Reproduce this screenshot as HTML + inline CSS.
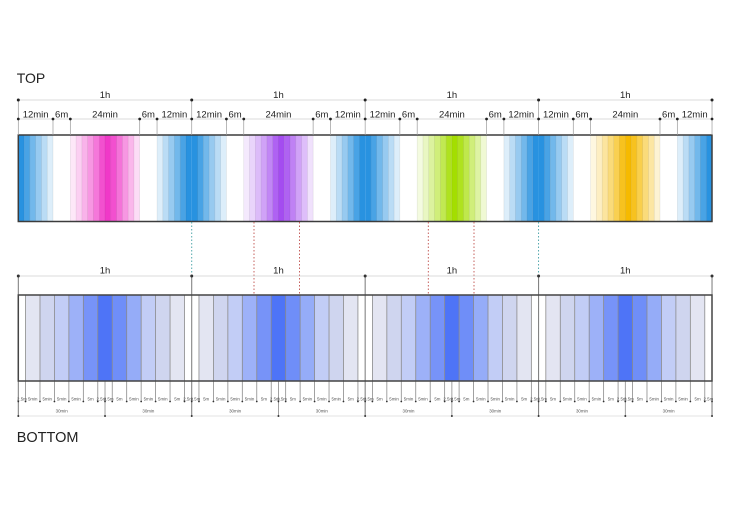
<!DOCTYPE html>
<html><head><meta charset="utf-8"><style>
html,body{margin:0;padding:0;background:#fff;}
svg{display:block;}
text{font-family:"Liberation Sans",Arial,sans-serif;}
</style></head><body>
<svg width="730" height="516" viewBox="0 0 730 516" xmlns="http://www.w3.org/2000/svg">
<defs>
 <g id="bl">
  <rect x="0" y="0" width="2" height="86.5" fill-opacity=".95"/>
  <rect x="2" y="0" width="2" height="86.5" fill-opacity=".8"/>
  <rect x="4" y="0" width="2" height="86.5" fill-opacity=".62"/>
  <rect x="6" y="0" width="2" height="86.5" fill-opacity=".46"/>
  <rect x="8" y="0" width="2" height="86.5" fill-opacity=".3"/>
  <rect x="10" y="0" width="2" height="86.5" fill-opacity=".15"/>
 </g>
 <g id="br">
  <rect x="48" y="0" width="2" height="86.5" fill-opacity=".15"/>
  <rect x="50" y="0" width="2" height="86.5" fill-opacity=".3"/>
  <rect x="52" y="0" width="2" height="86.5" fill-opacity=".46"/>
  <rect x="54" y="0" width="2" height="86.5" fill-opacity=".62"/>
  <rect x="56" y="0" width="2" height="86.5" fill-opacity=".8"/>
  <rect x="58" y="0" width="2" height="86.5" fill-opacity=".95"/>
 </g>
 <g id="ctr">
  <rect x="18" y="0" width="2" height="86.5" fill-opacity=".12"/>
  <rect x="20" y="0" width="2" height="86.5" fill-opacity=".24"/>
  <rect x="22" y="0" width="2" height="86.5" fill-opacity=".38"/>
  <rect x="24" y="0" width="2" height="86.5" fill-opacity=".52"/>
  <rect x="26" y="0" width="2" height="86.5" fill-opacity=".68"/>
  <rect x="28" y="0" width="2" height="86.5" fill-opacity=".88"/>
  <rect x="30" y="0" width="2" height="86.5" fill-opacity="1"/>
  <rect x="32" y="0" width="2" height="86.5" fill-opacity=".88"/>
  <rect x="34" y="0" width="2" height="86.5" fill-opacity=".7"/>
  <rect x="36" y="0" width="2" height="86.5" fill-opacity=".52"/>
  <rect x="38" y="0" width="2" height="86.5" fill-opacity=".36"/>
  <rect x="40" y="0" width="2" height="86.5" fill-opacity=".17"/>
 </g>
 <g id="tl" fill="#000" fill-opacity=".1">
  <rect x="1.9" width=".2" height="86.5"/><rect x="3.9" width=".2" height="86.5"/><rect x="5.9" width=".2" height="86.5"/>
  <rect x="7.9" width=".2" height="86.5"/><rect x="9.9" width=".2" height="86.5"/><rect x="11.9" width=".2" height="86.5"/>
  <rect x="17.9" width=".2" height="86.5"/><rect x="19.9" width=".2" height="86.5"/><rect x="21.9" width=".2" height="86.5"/>
  <rect x="23.9" width=".2" height="86.5"/><rect x="25.9" width=".2" height="86.5"/><rect x="27.9" width=".2" height="86.5"/>
  <rect x="29.9" width=".2" height="86.5"/><rect x="31.9" width=".2" height="86.5"/><rect x="33.9" width=".2" height="86.5"/>
  <rect x="35.9" width=".2" height="86.5"/><rect x="37.9" width=".2" height="86.5"/><rect x="39.9" width=".2" height="86.5"/>
  <rect x="41.9" width=".2" height="86.5"/><rect x="47.9" width=".2" height="86.5"/><rect x="49.9" width=".2" height="86.5"/>
  <rect x="51.9" width=".2" height="86.5"/><rect x="53.9" width=".2" height="86.5"/><rect x="55.9" width=".2" height="86.5"/>
  <rect x="57.9" width=".2" height="86.5"/>
 </g>
 <g id="bb">
  <rect x="2.5" width="5" height="86" fill="#e3e5f2"/>
  <rect x="7.5" width="5" height="86" fill="#cfd5ef"/>
  <rect x="12.5" width="5" height="86" fill="#c2cdf6"/>
  <rect x="17.5" width="5" height="86" fill="#9db1f8"/>
  <rect x="22.5" width="5" height="86" fill="#7793f8"/>
  <rect x="27.5" width="5" height="86" fill="#4e74f7"/>
  <rect x="32.5" width="5" height="86" fill="#6f8ef8"/>
  <rect x="37.5" width="5" height="86" fill="#95acf8"/>
  <rect x="42.5" width="5" height="86" fill="#c2cdf6"/>
  <rect x="47.5" width="5" height="86" fill="#cfd5ef"/>
  <rect x="52.5" width="5" height="86" fill="#e3e5f2"/>
 </g>
 <g id="tt">
  <g stroke="#999" stroke-width=".7">
   <line x1="0" y1="100" x2="0" y2="135"/>
   <line x1="34.69" y1="119" x2="34.69" y2="135"/>
   <line x1="52.03" y1="119" x2="52.03" y2="135"/>
   <line x1="121.40" y1="119" x2="121.40" y2="135"/>
   <line x1="138.74" y1="119" x2="138.74" y2="135"/>
  </g>
  <g fill="#222">
   <circle cx="0" cy="100" r="1.5"/><circle cx="0" cy="119" r="1.4"/>
   <circle cx="34.69" cy="119" r="1.4"/><circle cx="52.03" cy="119" r="1.4"/>
   <circle cx="121.40" cy="119" r="1.4"/><circle cx="138.74" cy="119" r="1.4"/>
  </g>
 </g>
 <g id="bt">
  <g stroke="#8a8a8a" stroke-width=".8">
   <line x1="7.23" y1="295" x2="7.23" y2="401.5"/>
   <line x1="21.68" y1="295" x2="21.68" y2="401.5"/>
   <line x1="36.13" y1="295" x2="36.13" y2="401.5"/>
   <line x1="50.58" y1="295" x2="50.58" y2="401.5"/>
   <line x1="65.04" y1="295" x2="65.04" y2="401.5"/>
   <line x1="79.49" y1="295" x2="79.49" y2="401.5"/>
   <line x1="93.94" y1="295" x2="93.94" y2="401.5"/>
   <line x1="108.39" y1="295" x2="108.39" y2="401.5"/>
   <line x1="122.85" y1="295" x2="122.85" y2="401.5"/>
   <line x1="137.30" y1="295" x2="137.30" y2="401.5"/>
   <line x1="151.75" y1="295" x2="151.75" y2="401.5"/>
   <line x1="166.20" y1="295" x2="166.20" y2="401.5"/>
   <line x1="86.72" y1="381" x2="86.72" y2="416"/>
  </g>
  <line x1="0" y1="276" x2="0" y2="416" stroke="#777" stroke-width="1"/>
  <g fill="#333">
   <circle cx="0" cy="276" r="1.5"/>
   <circle cx="0" cy="401.5" r=".9"/><circle cx="7.23" cy="401.5" r=".9"/><circle cx="21.68" cy="401.5" r=".9"/>
   <circle cx="36.13" cy="401.5" r=".9"/><circle cx="50.58" cy="401.5" r=".9"/><circle cx="65.04" cy="401.5" r=".9"/>
   <circle cx="79.49" cy="401.5" r=".9"/><circle cx="86.72" cy="401.5" r=".9"/><circle cx="93.94" cy="401.5" r=".9"/>
   <circle cx="108.39" cy="401.5" r=".9"/><circle cx="122.85" cy="401.5" r=".9"/><circle cx="137.30" cy="401.5" r=".9"/>
   <circle cx="151.75" cy="401.5" r=".9"/><circle cx="166.20" cy="401.5" r=".9"/>
   <circle cx="0" cy="416" r="1"/><circle cx="86.72" cy="416" r="1"/>
  </g>
 </g>
</defs>

<!-- titles -->
<text x="16.7" y="83" font-size="14" fill="#222">TOP</text>
<text x="16.7" y="442" font-size="14.5" fill="#222">BOTTOM</text>

<!-- TOP annotation lines -->
<line x1="18.3" y1="100" x2="712" y2="100" stroke="#cfcfcf" stroke-width=".7"/>
<line x1="18.3" y1="119" x2="712" y2="119" stroke="#cfcfcf" stroke-width=".7"/>

<!-- TOP bar stripes -->
<g transform="translate(18.3,135) scale(2.8905,1)">
 <use href="#bl" fill="#1c8cde"/><use href="#ctr" fill="#f038c8"/><use href="#br" fill="#1c8cde"/><use href="#tl"/>
</g>
<g transform="translate(191.73,135) scale(2.8905,1)">
 <use href="#bl" fill="#1c8cde"/><use href="#ctr" fill="#a44cf0"/><use href="#br" fill="#1c8cde"/><use href="#tl"/>
</g>
<g transform="translate(365.16,135) scale(2.8905,1)">
 <use href="#bl" fill="#1c8cde"/><use href="#ctr" fill="#a4de00"/><use href="#br" fill="#1c8cde"/><use href="#tl"/>
</g>
<g transform="translate(538.59,135) scale(2.8905,1)">
 <use href="#bl" fill="#1c8cde"/><use href="#ctr" fill="#f6ba00"/><use href="#br" fill="#1c8cde"/><use href="#tl"/>
</g>
<rect x="18.3" y="135" width="693.7" height="86.5" fill="none" stroke="#3c3c3c" stroke-width="1.5"/>

<use href="#tt" x="18.3"/>
<use href="#tt" x="191.73"/>
<use href="#tt" x="365.16"/>
<use href="#tt" x="538.59"/>
<line x1="712.02" y1="100" x2="712.02" y2="135" stroke="#999" stroke-width=".7"/>
<circle cx="712.02" cy="100" r="1.5" fill="#222"/>
<circle cx="712.02" cy="119" r="1.4" fill="#222"/>

<!-- TOP labels -->
<g font-size="9.5" fill="#222" text-anchor="middle">
 <text x="105.02" y="98">1h</text><text x="278.45" y="98">1h</text><text x="451.88" y="98">1h</text><text x="625.31" y="98">1h</text>
 <text x="35.64" y="117.5">12min</text><text x="61.66" y="117.5">6m</text><text x="105.02" y="117.5">24min</text><text x="148.37" y="117.5">6m</text><text x="174.39" y="117.5">12min</text>
 <text x="209.07" y="117.5">12min</text><text x="235.09" y="117.5">6m</text><text x="278.45" y="117.5">24min</text><text x="321.80" y="117.5">6m</text><text x="347.82" y="117.5">12min</text>
 <text x="382.50" y="117.5">12min</text><text x="408.52" y="117.5">6m</text><text x="451.88" y="117.5">24min</text><text x="495.23" y="117.5">6m</text><text x="521.25" y="117.5">12min</text>
 <text x="555.93" y="117.5">12min</text><text x="581.95" y="117.5">6m</text><text x="625.31" y="117.5">24min</text><text x="668.66" y="117.5">6m</text><text x="694.68" y="117.5">12min</text>
</g>

<!-- connectors -->
<g stroke-width=".9" stroke-dasharray="1.5,2" fill="none">
 <line x1="191.73" y1="222" x2="191.73" y2="276" stroke="#3f9ea3"/>
 <line x1="538.59" y1="222" x2="538.59" y2="276" stroke="#3f9ea3"/>
 <line x1="254" y1="222" x2="254" y2="295" stroke="#c0504d"/>
 <line x1="299.5" y1="222" x2="299.5" y2="295" stroke="#c0504d"/>
 <line x1="428.3" y1="222" x2="428.3" y2="295" stroke="#c0504d"/>
 <line x1="474" y1="222" x2="474" y2="295" stroke="#c0504d"/>
</g>

<!-- BOTTOM 1h row -->
<line x1="18.3" y1="276" x2="712" y2="276" stroke="#cfcfcf" stroke-width=".7"/>
<g font-size="9.5" fill="#222" text-anchor="middle">
 <text x="105.02" y="273.5">1h</text><text x="278.45" y="273.5">1h</text><text x="451.88" y="273.5">1h</text><text x="625.31" y="273.5">1h</text>
</g>

<!-- BOTTOM bar -->
<g transform="translate(18.3,295) scale(2.8905,1)"><use href="#bb"/></g>
<g transform="translate(191.73,295) scale(2.8905,1)"><use href="#bb"/></g>
<g transform="translate(365.16,295) scale(2.8905,1)"><use href="#bb"/></g>
<g transform="translate(538.59,295) scale(2.8905,1)"><use href="#bb"/></g>

<line x1="18.3" y1="416" x2="712" y2="416" stroke="#c8c8c8" stroke-width=".6"/>
<use href="#bt" x="18.3"/>
<use href="#bt" x="191.73"/>
<use href="#bt" x="365.16"/>
<use href="#bt" x="538.59"/>
<line x1="712.02" y1="276" x2="712.02" y2="416" stroke="#777" stroke-width="1"/>
<circle cx="712.02" cy="276" r="1.5" fill="#333"/>
<circle cx="712.02" cy="401.5" r=".9" fill="#333"/>
<circle cx="712.02" cy="416" r="1" fill="#333"/>
<rect x="18.3" y="295" width="693.7" height="86" fill="none" stroke="#444" stroke-width="1.5"/>

<!-- BOTTOM small labels -->
<g font-size="4.4" fill="#555" text-anchor="middle">
 <g transform="translate(18.3,0)">
  <text x="3.61" y="400.5">2.5m</text><text x="14.45" y="400.5">5min</text><text x="28.91" y="400.5">5min</text><text x="43.36" y="400.5">5min</text><text x="57.81" y="400.5">5min</text><text x="72.26" y="400.5">5m</text><text x="83.10" y="400.5">2.5m</text>
  <text x="90.33" y="400.5">2.5m</text><text x="101.17" y="400.5">5m</text><text x="115.62" y="400.5">5min</text><text x="130.07" y="400.5">5min</text><text x="144.53" y="400.5">5min</text><text x="158.98" y="400.5">5m</text><text x="169.82" y="400.5">2.5m</text>
  <text x="43.36" y="412.5">30min</text><text x="130.07" y="412.5">30min</text>
 </g>
 <g transform="translate(191.73,0)">
  <text x="3.61" y="400.5">2.5m</text><text x="14.45" y="400.5">5m</text><text x="28.91" y="400.5">5min</text><text x="43.36" y="400.5">5min</text><text x="57.81" y="400.5">5min</text><text x="72.26" y="400.5">5m</text><text x="83.10" y="400.5">2.5m</text>
  <text x="90.33" y="400.5">2.5m</text><text x="101.17" y="400.5">5m</text><text x="115.62" y="400.5">5min</text><text x="130.07" y="400.5">5min</text><text x="144.53" y="400.5">5min</text><text x="158.98" y="400.5">5m</text><text x="169.82" y="400.5">2.5m</text>
  <text x="43.36" y="412.5">30min</text><text x="130.07" y="412.5">30min</text>
 </g>
 <g transform="translate(365.16,0)">
  <text x="3.61" y="400.5">2.5m</text><text x="14.45" y="400.5">5m</text><text x="28.91" y="400.5">5min</text><text x="43.36" y="400.5">5min</text><text x="57.81" y="400.5">5min</text><text x="72.26" y="400.5">5m</text><text x="83.10" y="400.5">2.5m</text>
  <text x="90.33" y="400.5">2.5m</text><text x="101.17" y="400.5">5m</text><text x="115.62" y="400.5">5min</text><text x="130.07" y="400.5">5min</text><text x="144.53" y="400.5">5min</text><text x="158.98" y="400.5">5m</text><text x="169.82" y="400.5">2.5m</text>
  <text x="43.36" y="412.5">30min</text><text x="130.07" y="412.5">30min</text>
 </g>
 <g transform="translate(538.59,0)">
  <text x="3.61" y="400.5">2.5m</text><text x="14.45" y="400.5">5m</text><text x="28.91" y="400.5">5min</text><text x="43.36" y="400.5">5min</text><text x="57.81" y="400.5">5min</text><text x="72.26" y="400.5">5m</text><text x="83.10" y="400.5">2.5m</text>
  <text x="90.33" y="400.5">2.5m</text><text x="101.17" y="400.5">5m</text><text x="115.62" y="400.5">5min</text><text x="130.07" y="400.5">5min</text><text x="144.53" y="400.5">5min</text><text x="158.98" y="400.5">5m</text><text x="169.82" y="400.5">2.5m</text>
  <text x="43.36" y="412.5">30min</text><text x="130.07" y="412.5">30min</text>
 </g>
</g>
</svg>
</body></html>
